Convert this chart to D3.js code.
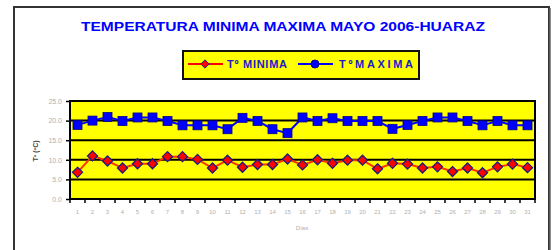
<!DOCTYPE html>
<html><head><meta charset="utf-8">
<script src="https://cdn.jsdelivr.net/npm/d3@7"></script>
<style>html,body{margin:0;padding:0;background:#fff;}svg{display:block;}</style>
</head><body>
<svg id="c" width="555" height="250"></svg>
<script>
const days = d3.range(1, 32).map(String);
const tMin = [6.8,11.0,9.7,7.9,9.0,9.0,10.8,10.8,10.1,7.9,9.9,8.1,8.8,8.8,10.2,8.7,10.0,9.1,9.9,9.9,7.7,9.1,8.9,7.9,8.2,7.0,7.9,6.7,8.2,8.9,8.0];
const tMax = [18.9,20.0,20.9,19.9,20.8,20.8,19.9,18.8,18.8,18.8,17.8,20.7,19.9,17.8,16.8,20.8,19.9,20.6,19.9,19.9,19.9,17.9,18.9,19.9,20.8,20.8,19.9,18.8,19.9,18.8,18.8];
const yTicks = [0,5,10,15,20,25];
const seriesNames = ["Tº MINIMA","TºMAXIMA"];
const titleText = "TEMPERATURA MINIMA MAXIMA MAYO 2006-HUARAZ";

const svg = d3.select("#c");
// outer frame
svg.append("rect").attr("x",14).attr("y",7).attr("width",535).attr("height",260)
  .attr("fill","#fff").attr("stroke","#333").attr("stroke-width",2);
svg.append("line").attr("x1",550).attr("x2",550).attr("y1",8).attr("y2",250).attr("stroke","#666").attr("stroke-width",1.5);

svg.append("text").attr("x",283).attr("y",31).attr("text-anchor","middle")
  .attr("font-family","Liberation Sans, Arial, sans-serif").attr("font-weight","bold")
  .attr("font-size",13).attr("fill","#0000ff")
  .attr("textLength",404).attr("lengthAdjust","spacingAndGlyphs").text(titleText);

const L = 70, R = 535, T = 101, B = 199;
const x = d3.scaleBand().domain(days).range([L, R]);
const y = d3.scaleLinear().domain([0, 25]).range([B, T]);

const g = svg.append("g");
g.append("rect").attr("x",L).attr("y",T).attr("width",R-L).attr("height",B-T)
  .attr("fill","#ffff00");
g.selectAll(".grid").data(yTicks.filter(v=>v>0&&v<25)).join("line")
  .attr("x1",L).attr("x2",R).attr("y1",d=>y(d)).attr("y2",d=>y(d))
  .attr("stroke","#000").attr("stroke-width",2);
g.append("rect").attr("x",L).attr("y",T).attr("width",R-L).attr("height",B-T)
  .attr("fill","none").attr("stroke","#000").attr("stroke-width",2);

// axes
const xAxis = d3.axisBottom(x).tickSize(0).tickPadding(11);
const xa = svg.append("g").attr("transform",`translate(0,${B})`).call(xAxis);
xa.select(".domain").remove();
xa.selectAll("text").attr("font-family","Liberation Sans, Arial, sans-serif").attr("font-size",6).attr("fill","#b0b0b0");
svg.selectAll(".xt").data(d3.range(0,32)).join("line")
  .attr("x1",d=>L+d*x.step()).attr("x2",d=>L+d*x.step())
  .attr("y1",B).attr("y2",B+4).attr("stroke","#000").attr("stroke-width",1.5);

const yAxis = d3.axisLeft(y).tickValues(yTicks).tickFormat(d3.format(".1f")).tickSize(4).tickPadding(4);
const ya = svg.append("g").attr("transform",`translate(${L},0)`).call(yAxis);
ya.select(".domain").remove();
ya.selectAll("line").attr("stroke","#000").attr("stroke-width",1.5);
ya.selectAll("text").attr("font-family","Liberation Sans, Arial, sans-serif").attr("font-size",7).attr("fill","#b0b0b0");

svg.append("text").attr("transform","translate(38,151) rotate(-90)").attr("text-anchor","middle")
  .attr("font-family","Liberation Sans, Arial, sans-serif").attr("font-size",7).attr("font-weight","bold")
  .attr("fill","#444").text("Tº (ºC)");
svg.append("text").attr("x",302).attr("y",230).attr("text-anchor","middle")
  .attr("font-family","Liberation Sans, Arial, sans-serif").attr("font-size",6).attr("fill","#b0b0b0").text("Días");

const cx = d => x(d) + x.bandwidth()/2;
const line = d3.line().x((d,i)=>cx(days[i])).y(d=>y(d));
svg.append("path").datum(tMax).attr("d",line).attr("fill","none").attr("stroke","#0000ff").attr("stroke-width",2);
svg.append("path").datum(tMin).attr("d",line).attr("fill","none").attr("stroke","#ff3300").attr("stroke-width",2);

svg.selectAll(".sq").data(tMax).join("rect")
  .attr("x",(d,i)=>cx(days[i])-4.5).attr("y",d=>y(d)-4.5).attr("width",9).attr("height",9)
  .attr("fill","#0000ff").attr("stroke","#00008b").attr("stroke-width",0.8);
const diamond = d3.symbol().type(d3.symbolDiamond2).size(64);
svg.selectAll(".dm").data(tMin).join("path")
  .attr("d",diamond).attr("transform",(d,i)=>`translate(${cx(days[i])},${y(d)})`)
  .attr("fill","#ff0000").attr("stroke","#1a1a80").attr("stroke-width",1.3);

// legend
const lg = svg.append("g");
lg.append("rect").attr("x",183).attr("y",51).attr("width",236).attr("height",28)
  .attr("fill","#ffff00").attr("stroke","#111").attr("stroke-width",2);
lg.append("line").attr("x1",188).attr("x2",223).attr("y1",64).attr("y2",64).attr("stroke","#ff0000").attr("stroke-width",2);
lg.append("path").attr("d",d3.symbol().type(d3.symbolDiamond2).size(44)).attr("transform","translate(205,64)")
  .attr("fill","#ff0000").attr("stroke","#1a1a80").attr("stroke-width",1);
lg.append("line").attr("x1",298).attr("x2",333).attr("y1",64).attr("y2",64).attr("stroke","#0000ff").attr("stroke-width",2);
lg.append("circle").attr("cx",315).attr("cy",64).attr("r",4).attr("fill","#0000ff").attr("stroke","#00008b");
lg.selectAll(".lt").data(seriesNames).join("text")
  .attr("x",(d,i)=>i===0?227:339).attr("y",68)
  .attr("font-family","Liberation Sans, Arial, sans-serif").attr("font-weight","bold").attr("font-size",11)
  .attr("fill","#1a1acc").attr("textLength",(d,i)=>i===0?60:74).attr("lengthAdjust","spacing").text(d=>d);
</script>
</body></html>
